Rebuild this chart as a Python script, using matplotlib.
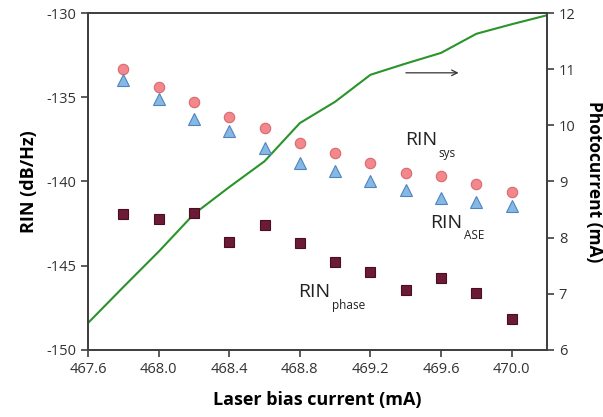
import matplotlib
matplotlib.use('Agg')
import matplotlib.pyplot as plt

############################################################
# Data
############################################################

bias = [467.8, 468.0, 468.2, 468.4, 468.6, 468.8, 469.0, 469.2, 469.4, 469.6, 469.8, 470.0]
rin_sys = [-133.3, -134.4, -135.3, -136.2, -136.8, -137.7, -138.3, -138.9, -139.5, -139.7, -140.15, -140.65]
rin_ase = [-134.0, -135.1, -136.3, -137.0, -138.0, -138.9, -139.35, -140.0, -140.5, -140.95, -141.2, -141.45]
rin_phase = [-141.9, -142.25, -141.85, -143.6, -142.6, -143.65, -144.75, -145.35, -146.45, -145.7, -146.6, -148.15]

pc_bias = [467.6, 467.8, 468.0, 468.2, 468.4, 468.6, 468.8, 469.0, 469.2, 469.4, 469.6, 469.8, 470.0, 470.2]
photocurrent = [6.48, 7.12, 7.75, 8.42, 8.9, 9.36, 10.04, 10.42, 10.9, 11.1, 11.29, 11.63, 11.8, 11.96]

x_ticks = [467.6, 468.0, 468.4, 468.8, 469.2, 469.6, 470.0]
left_ticks = [-150, -145, -140, -135, -130]
right_ticks = [6, 7, 8, 9, 10, 11, 12]

############################################################
# Plot
############################################################

plt.rcParams['font.family'] = ['Open Sans', 'DejaVu Sans']
plt.rcParams['axes.unicode_minus'] = False

fig = plt.figure(figsize=(6.03, 4.17), dpi=100)
ax = fig.add_axes([0.1459, 0.1607, 0.7612, 0.8081])
ax2 = ax.twinx()

ax2.plot(pc_bias, photocurrent, color='#2a942a', lw=1.5)
ax2.set_ylim(6, 12)
ax2.set_yticks(right_ticks)

ax.set_zorder(ax2.get_zorder() + 1)
ax.patch.set_visible(False)

ax.plot(bias, rin_sys, 'o', ms=7.5, mfc='#f4878c', mec='#d66a70', mew=0.8)
ax.plot(bias, rin_ase, '^', ms=8.5, mfc='#86b8e6', mec='#4f84bd', mew=0.8)
ax.plot(bias, rin_phase, 's', ms=7.2, mfc='#6c1b36', mec='#4a0e22', mew=0.8)

ax.set_xlim(467.6, 470.2)
ax.set_ylim(-150, -130)
ax.set_xticks(x_ticks)
ax.set_xticklabels([f'{v:.1f}' for v in x_ticks])
ax.set_yticks(left_ticks)

edge = '#404040'
for a in (ax, ax2):
    for s in a.spines.values():
        s.set_color(edge)
        s.set_linewidth(1.3)
    a.tick_params(colors=edge, labelcolor='#333333', labelsize=10.5, length=5, width=1.2)

ax.set_xlabel('Laser bias current (mA)', fontsize=13, fontweight='bold', labelpad=10)
ax.set_ylabel('RIN (dB/Hz)', fontsize=13, fontweight='bold', labelpad=6)
ax2.set_ylabel('Photocurrent (mA)', fontsize=12.5, fontweight='bold', rotation=270,
               va='center', ha='center')
ax2.yaxis.set_label_coords(1.102, 0.5)


def rin_label(x, y, sub):
    t = ax.text(x, y, 'RIN', fontsize=14, color='#222222', va='center', ha='left')
    ax.annotate(sub, xy=(1.0, 0.5), xycoords=t, xytext=(1, -9.5), textcoords='offset points',
                fontsize=8.5, color='#222222', va='center', ha='left')


rin_label(469.395, -137.55, 'sys')
rin_label(469.54, -142.45, 'ASE')
rin_label(468.79, -146.55, 'phase')

ax.annotate('', xy=(469.715, -133.55), xytext=(469.385, -133.55),
            arrowprops=dict(arrowstyle='->', color='#333333', lw=0.9))

fig.savefig('out.png', dpi=100)
